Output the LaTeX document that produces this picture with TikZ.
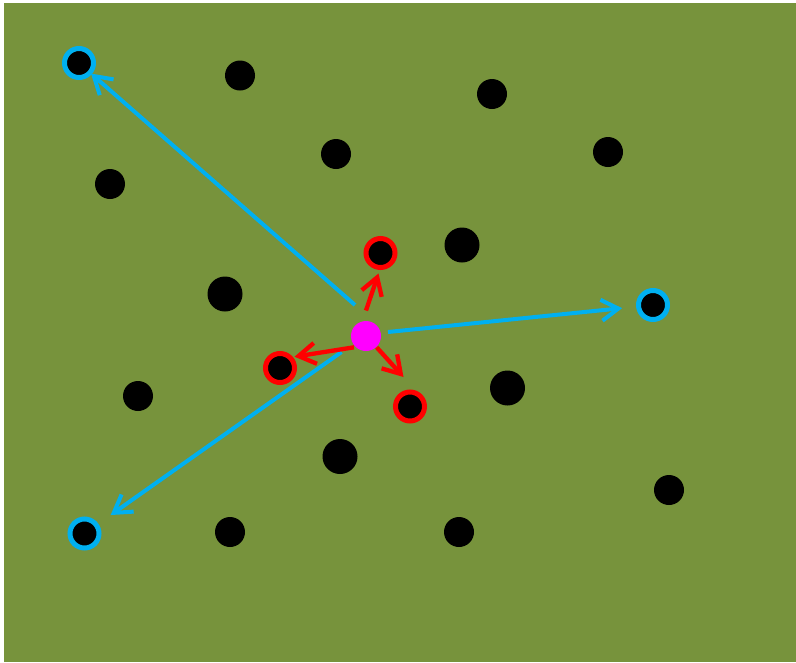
\documentclass[tikz,border=0pt]{standalone}
\usetikzlibrary{arrows.meta}
\definecolor{bg}{HTML}{77933C}
\definecolor{cblue}{HTML}{00B0F0}
\definecolor{cred}{HTML}{FF0000}
\definecolor{cmag}{HTML}{FF00FF}
\tikzset{
  dot/.style={circle, fill=black, inner sep=0pt, minimum size=30pt},
  bigdot/.style={circle, fill=black, inner sep=0pt, minimum size=35pt},
  bluering/.style={circle, fill=black, draw=cblue, line width=5pt, inner sep=0pt, minimum size=29pt},
  redring/.style={circle, fill=black, draw=cred, line width=5pt, inner sep=0pt, minimum size=29pt},
  magdot/.style={circle, fill=cmag, inner sep=0pt, minimum size=30pt},
  bluearrow/.style={draw=cblue, line width=4pt, -{Straight Barb[length=17pt,width=21pt]}},
  redarrow/.style={draw=cred, line width=4.3pt, -{Straight Barb[length=17pt,width=21pt]}}
}
\begin{document}
\begin{tikzpicture}[x=1pt,y=-1pt]
\useasboundingbox (0,0) rectangle (796,662);
\fill[white] (0,0) rectangle (796,662);
\fill[bg] (4,3) rectangle (796,662);
% black dots
\node[dot] (d1) at (240,75.5) {};
\node[dot] (d2) at (492,94) {};
\node[dot] (d3) at (336,154) {};
\node[dot] (d4) at (608,152) {};
\node[dot] (d5) at (110,184) {};
\node[bigdot] (d6) at (462,245) {};
\node[bigdot] (d7) at (225,294) {};
\node[dot] (d8) at (138,396) {};
\node[bigdot] (d9) at (507.5,388) {};
\node[bigdot] (d10) at (340,456.5) {};
\node[dot] (d11) at (669,490) {};
\node[dot] (d12) at (230,532) {};
\node[dot] (d13) at (459,532) {};
% blue rings
\node[bluering] (b1) at (79,63) {};
\node[bluering] (b2) at (653,305) {};
\node[bluering] (b3) at (84.5,533.5) {};
% red rings
\node[redring] (r1) at (380.5,253) {};
\node[redring] (r2) at (280,368) {};
\node[redring] (r3) at (410,406.5) {};
% magenta
\node[magdot] (m) at (366,336) {};
% free ends of the arrows
\coordinate (s1) at (355,305);
\coordinate (s2) at (388,332);
\coordinate (s3) at (341.5,352);
\coordinate (s4) at (366,310.5);
\coordinate (t4) at (378.5,273.5);
\coordinate (s5) at (354,347.3);
\coordinate (t5) at (294.5,356.7);
\coordinate (s6) at (376.7,347.3);
\coordinate (t6) at (403.5,377);
% blue arrows
\draw[bluearrow, shorten >=16pt] (s1) -- (b1.center);
\draw[bluearrow, shorten >=31pt] (s2) -- (b2.center);
\draw[bluearrow, shorten >=32pt] (s3) -- (b3.center);
% red arrows
\draw[redarrow] (s4) -- (t4);
\draw[redarrow] (s5) -- (t5);
\draw[redarrow] (s6) -- (t6);
\end{tikzpicture}
\end{document}
